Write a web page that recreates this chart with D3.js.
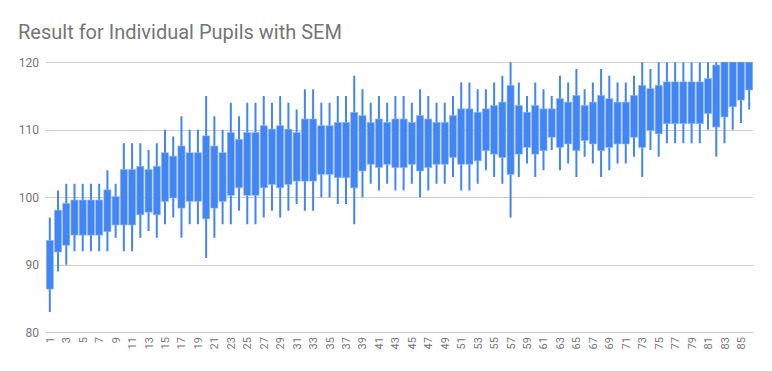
<!DOCTYPE html>
<html><head><meta charset="utf-8">
<script src="https://cdn.jsdelivr.net/npm/d3@7"></script>
<style>body{margin:0;background:#fff}svg{display:block}text{font-family:Roboto,Arial,sans-serif}</style>
</head><body>
<svg id="c" width="772" height="371"></svg>
<script>
const pupils = d3.range(1, 87);
const lows = [83,89,90,92,92,92,92,92,94,92,92,94,95,94,96,97,94,96,96,91,94,96,96,98,96,96,97,98,97,98,99,98,98,100,100,99,99,96,100,102,101,102,101,101,102,100,101,102,102,103,101,101,102,104,103,102,97,103,105,103,104,107,104,105,103,106,105,103,104,105,105,106,103,107,106,108,108,108,108,108,110,106,108,110,111,113];
const bodyLows = [86.4,91.9,92.9,94.4,94.4,94.4,94.4,94.9,95.9,95.9,95.9,97.4,97.8,97.4,99.4,99.9,98.4,99.4,99.4,96.8,98.4,99.4,100.3,101.4,100.3,100.3,101.4,101.9,101.4,101.9,102.4,102.4,102.4,103.4,103.4,102.9,102.9,101.4,103.9,104.9,104.4,104.9,104.4,104.4,104.9,103.9,104.4,104.9,104.9,105.9,104.9,104.9,105.4,106.9,106.4,105.9,103.4,106.4,107.4,106.4,106.9,108.9,107.4,107.9,106.9,108.4,107.9,106.9,107.4,107.9,107.9,108.9,107.4,109.9,109.4,110.9,110.9,110.9,110.9,110.9,112.4,110.4,111.9,113.4,114.4,115.9];
const bodyHighs = [93.6,98.1,99.1,99.6,99.6,99.6,99.6,101.1,100.1,104.1,104.1,104.6,104.1,104.6,106.6,106.1,107.6,106.6,106.6,109.1,107.6,106.6,109.6,108.6,109.6,109.6,110.6,110.1,110.6,110.1,109.6,111.6,111.6,110.6,110.6,111.1,111.1,112.6,112.1,111.1,111.6,111.1,111.6,111.6,111.1,112.1,111.6,111.1,111.1,112.1,113.1,113.1,112.6,113.1,113.6,114.1,116.6,113.6,112.6,113.6,113.1,113.1,114.6,114.1,115.1,113.6,114.1,115.1,114.6,114.1,114.1,115.1,116.6,116.1,116.6,117.1,117.1,117.1,117.1,117.1,117.6,119.6,122,122,123,124];
const highs = [97,101,102,102,102,102,102,104,102,108,108,108,107,108,110,109,112,110,110,115,112,110,114,112,114,114,115,114,115,114,113,116,116,114,114,115,115,118,116,114,115,114,115,115,114,116,115,114,114,115,117,117,116,116,117,118,123,117,115,117,116,115,118,117,119,116,117,119,118,117,117,118,121,119,120,120,120,120,120,120,121,124,125,125,126,127];
const yTicks = [80,90,100,110,120];
const xTickLabels = pupils.filter(d => d % 2 === 1);

const svg = d3.select('#c');
const pLeft = 45.7, pRight = 753.3, pTop = 62.3, pBottom = 332.3;
const x = d3.scaleBand().domain(pupils).range([pLeft, pRight]).padding(0);
const y = d3.scaleLinear().domain([80, 120]).range([pBottom, pTop]);
const color = '#4285f4';

svg.append('text').attr('x', 18).attr('y', 38.5).attr('font-size', 20).attr('fill', '#757575').text('Result for Individual Pupils with SEM');

svg.append('g').selectAll('line').data(yTicks).join('line')
  .attr('x1', pLeft).attr('x2', pRight)
  .attr('y1', d => Math.round(y(d)) + 0.5).attr('y2', d => Math.round(y(d)) + 0.5)
  .attr('stroke', '#cccccc').attr('stroke-width', 1);

svg.append('g').selectAll('text').data(yTicks).join('text')
  .attr('x', 39).attr('y', d => y(d)).attr('dy', '0.35em')
  .attr('text-anchor', 'end').attr('font-size', 12).attr('fill', '#757575')
  .text(d => d);

svg.append('defs').append('clipPath').attr('id', 'clip')
  .append('rect').attr('x', pLeft).attr('y', pTop).attr('width', pRight - pLeft).attr('height', pBottom - pTop);

const data = pupils.map((p, i) => ({p, lo: lows[i], b0: bodyLows[i], b1: bodyHighs[i], hi: highs[i]}));
const g = svg.append('g').attr('clip-path', 'url(#clip)');
const bw = x.bandwidth();
g.selectAll('line.w').data(data).join('line').attr('class', 'w')
  .attr('x1', d => x(d.p) + bw / 2).attr('x2', d => x(d.p) + bw / 2)
  .attr('y1', d => y(d.lo)).attr('y2', d => y(d.hi))
  .attr('stroke', color).attr('stroke-width', 2);
g.selectAll('rect.b').data(data).join('rect').attr('class', 'b')
  .attr('x', d => x(d.p) + bw / 2 - 3.55).attr('width', 7.1)
  .attr('y', d => y(d.b1)).attr('height', d => y(d.b0) - y(d.b1))
  .attr('fill', color).attr('stroke', '#8fb6f8').attr('stroke-width', 0.6);

svg.append('g').selectAll('text').data(xTickLabels).join('text')
  .attr('transform', d => `translate(${x(d) + bw / 2 + 4},337) rotate(-90)`)
  .attr('text-anchor', 'end').attr('font-size', 11).attr('fill', '#757575')
  .text(d => d);
</script>
</body></html>
